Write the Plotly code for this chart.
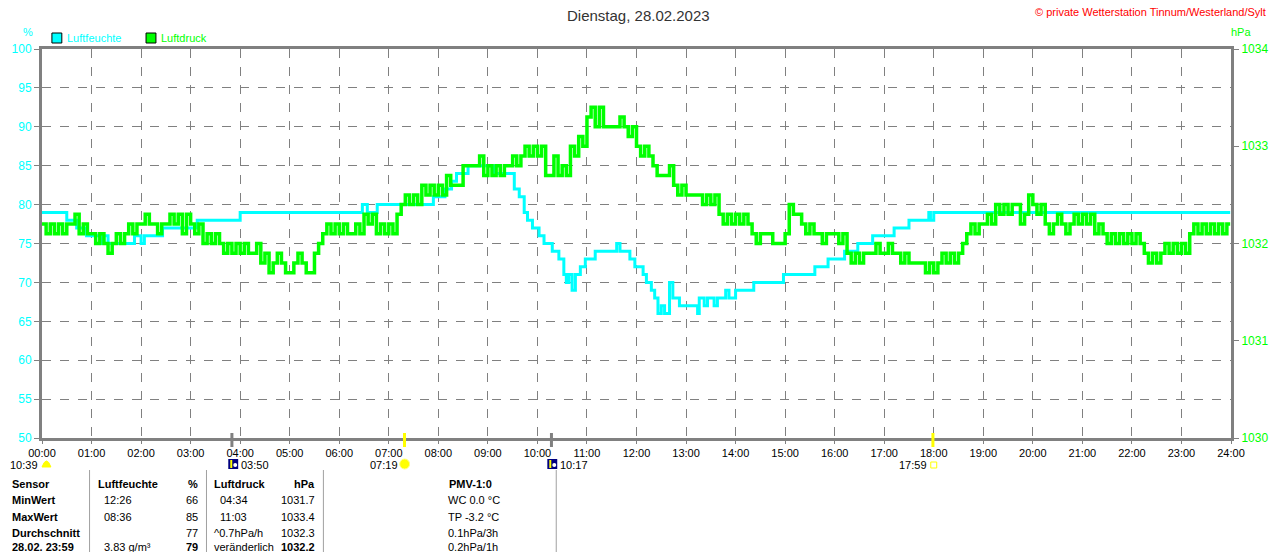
import plotly.graph_objects as go

# Luftfeuchte (%), Zeitpunkte der Aenderung
feuchte_zeit = ["00:00", "00:30", "00:42", "00:54", "01:12", "01:15", "01:20", "01:52", "02:00",
                "02:04", "02:26", "03:08", "04:00", "06:28", "06:34", "06:46", "07:54", "08:08",
                "08:16", "08:22", "08:36", "09:08", "09:32", "09:38", "09:44", "09:48", "09:54",
                "10:02", "10:08", "10:18", "10:26", "10:32", "10:35", "10:38", "10:42", "10:46",
                "10:52", "10:58", "11:10", "11:36", "11:40", "11:52", "11:58", "12:08", "12:12",
                "12:18", "12:22", "12:26", "12:30", "12:34", "12:40", "12:44", "12:52", "13:14",
                "13:16", "13:22", "13:26", "13:34", "13:38", "13:48", "13:52", "14:00", "14:22",
                "14:58", "15:36", "15:52", "16:12", "16:28", "16:46", "17:12", "17:30", "17:54",
                "17:56", "18:00", "23:59"]
feuchte_wert = [79, 78, 77, 76, 75, 76, 75, 76, 75,
                76, 77, 78, 79, 80, 79, 80, 81, 82,
                83, 84, 85, 84, 82, 81, 79, 78, 77,
                76, 75, 74, 73, 71, 70, 71, 69, 71,
                72, 73, 74, 75, 74, 73, 72, 71, 70,
                69, 68, 66, 67, 66, 70, 68, 67, 66,
                68, 67, 68, 67, 68, 69, 68, 69, 70,
                71, 72, 73, 74, 75, 76, 77, 78, 79,
                78, 79, 79]

# Luftdruck (hPa), alle 5 Minuten, eine Zeile pro Stunde
druck_hpa = [
    1032.2, 1032.1, 1032.2, 1032.1, 1032.2, 1032.1, 1032.2, 1032.2, 1032.3, 1032.1, 1032.2, 1032.1,
    1032.1, 1032.0, 1032.1, 1032.0, 1031.9, 1032.0, 1032.1, 1032.0, 1032.1, 1032.2, 1032.1, 1032.2,
    1032.2, 1032.3, 1032.2, 1032.2, 1032.1, 1032.2, 1032.2, 1032.3, 1032.2, 1032.3, 1032.1, 1032.3,
    1032.2, 1032.1, 1032.2, 1032.0, 1032.1, 1032.0, 1032.1, 1032.0, 1031.9, 1032.0, 1031.9, 1032.0,
    1031.9, 1032.0, 1031.9, 1031.9, 1032.0, 1031.8, 1031.9, 1031.7, 1031.8, 1031.9, 1031.8, 1031.7,
    1031.7, 1031.8, 1031.9, 1031.8, 1031.7, 1031.7, 1031.9, 1032.0, 1032.1, 1032.2, 1032.1, 1032.2,
    1032.1, 1032.2, 1032.1, 1032.1, 1032.2, 1032.1, 1032.3, 1032.2, 1032.3, 1032.1, 1032.2, 1032.1,
    1032.2, 1032.1, 1032.3, 1032.4, 1032.5, 1032.4, 1032.5, 1032.4, 1032.6, 1032.5, 1032.6, 1032.5,
    1032.6, 1032.5, 1032.7, 1032.6, 1032.6, 1032.6, 1032.8, 1032.8, 1032.8, 1032.8, 1032.9, 1032.7,
    1032.8, 1032.7, 1032.8, 1032.7, 1032.8, 1032.8, 1032.9, 1032.8, 1032.9, 1033.0, 1032.9, 1033.0,
    1032.9, 1033.0, 1032.7, 1032.7, 1032.9, 1032.7, 1032.8, 1032.7, 1033.0, 1032.9, 1033.1, 1033.0,
    1033.3, 1033.4, 1033.2, 1033.4, 1033.2, 1033.2, 1033.2, 1033.2, 1033.3, 1033.2, 1033.1, 1033.2,
    1033.0, 1032.9, 1033.0, 1032.9, 1032.8, 1032.7, 1032.7, 1032.7, 1032.8, 1032.6, 1032.5, 1032.6,
    1032.5, 1032.5, 1032.5, 1032.5, 1032.4, 1032.5, 1032.4, 1032.5, 1032.3, 1032.2, 1032.3, 1032.2,
    1032.3, 1032.2, 1032.3, 1032.2, 1032.1, 1032.0, 1032.1, 1032.1, 1032.1, 1032.0, 1032.0, 1032.0,
    1032.1, 1032.4, 1032.3, 1032.3, 1032.2, 1032.1, 1032.2, 1032.1, 1032.1, 1032.0, 1032.1, 1032.1,
    1032.1, 1032.0, 1032.1, 1031.9, 1031.8, 1031.9, 1031.8, 1031.9, 1031.9, 1031.9, 1032.0, 1031.9,
    1031.9, 1032.0, 1031.9, 1031.9, 1031.8, 1031.9, 1031.8, 1031.8, 1031.8, 1031.8, 1031.7, 1031.8,
    1031.7, 1031.8, 1031.9, 1031.8, 1031.9, 1031.8, 1031.9, 1032.0, 1032.1, 1032.2, 1032.1, 1032.2,
    1032.2, 1032.3, 1032.2, 1032.4, 1032.3, 1032.4, 1032.3, 1032.4, 1032.4, 1032.2, 1032.3, 1032.5,
    1032.4, 1032.3, 1032.4, 1032.2, 1032.1, 1032.2, 1032.3, 1032.2, 1032.1, 1032.2, 1032.3, 1032.2,
    1032.3, 1032.2, 1032.3, 1032.1, 1032.2, 1032.1, 1032.0, 1032.1, 1032.0, 1032.1, 1032.0, 1032.1,
    1032.0, 1032.1, 1032.0, 1031.9, 1031.8, 1031.9, 1031.8, 1031.9, 1032.0, 1031.9, 1032.0, 1031.9,
    1032.0, 1031.9, 1032.1, 1032.2, 1032.1, 1032.2, 1032.1, 1032.2, 1032.1, 1032.2, 1032.1, 1032.2,
    1032.2,
]
druck_minuten = list(range(0, 1440, 5)) + [1439]

stunden_labels = ["%02d:00" % h for h in range(25)]

# Ereignisse unter der Zeitachse (Mond / Sonne)
ereignis_zeit = ["03:50", "07:19", "10:17", "17:59"]
ereignis_farbe = ["#808080", "#ffff00", "#808080", "#ffff00"]

tabelle = [
    ["Sensor", "Luftfeuchte", "%", "Luftdruck", "hPa", "PMV-1:0"],
    ["MinWert", "12:26", "66", "04:34", "1031.7", "WC 0.0 °C"],
    ["MaxWert", "08:36", "85", "11:03", "1033.4", "TP -3.2 °C"],
    ["Durchschnitt", "", "77", "^0.7hPa/h", "1032.3", "0.1hPa/3h"],
    ["28.02. 23:59", "3.83 g/m³", "79", "veränderlich", "1032.2", "0.2hPa/1h"],
]

CYAN = "#00ffff"
GRUEN = "#00ff00"
GRAU = "#808080"
FONT = "Liberation Sans, Arial, sans-serif"


def std(t):
    h, m = t.split(":")
    return int(h) + int(m) / 60


# pixel helpers for the decoration outside the plot area (plot: x 40..1240, y 49..438)
def px(x):
    return (x - 40) / 1200


def py(y):
    return (438 - y) / 389


def text(x, y, s, anchor="center", size=11, color="black"):
    return dict(x=px(x), y=py(y), xref="paper", yref="paper", text=s, xanchor=anchor,
                yanchor="middle", showarrow=False, font=dict(size=size, color=color))


fig = go.Figure()
fig.add_trace(go.Scatter(x=[std(t) for t in feuchte_zeit], y=feuchte_wert, mode="lines",
                         line=dict(color=CYAN, width=3, shape="hv"), name="Luftfeuchte"))
fig.add_trace(go.Scatter(x=[m / 60 for m in druck_minuten], y=druck_hpa, mode="lines",
                         line=dict(color=GRUEN, width=3.5, shape="hv"), name="Luftdruck", yaxis="y2"))

ann = []
shapes = []

# Titel und Copyright
ann.append(text(642, 15, "Dienstag, 28.02.2023", size=15, color="#333333"))
ann.append(text(1277, 12, "© private Wetterstation Tinnum/Westerland/Sylt", "right", 11, "#ff0000"))
ann.append(text(26, 32, "%", size=11, color=CYAN))
ann.append(text(1250, 32, "hPa", size=11, color=GRUEN))

# Legende
for x0, farbe, name in [(50, CYAN, "Luftfeuchte"), (145, GRUEN, "Luftdruck")]:
    shapes.append(dict(type="rect", xref="paper", yref="paper", x0=px(x0), x1=px(x0 + 10),
                       y0=py(33), y1=py(43), fillcolor=farbe, line=dict(color="black", width=1)))
    ann.append(text(x0 + 13, 38, name, "left", 11, farbe))

# Ereignis-Markierungen an der Zeitachse
for t, farbe in zip(ereignis_zeit, ereignis_farbe):
    shapes.append(dict(type="line", xref="x", yref="paper", x0=std(t), x1=std(t),
                       y0=py(433), y1=py(447), line=dict(color=farbe, width=3)))

ann.append(text(38, 465, "10:39", "right"))
shapes.append(dict(type="path", xref="paper", yref="paper",
                   path="M %f,%f Q %f,%f %f,%f Z" % (px(40), py(467), px(44.5), py(455), px(49), py(467)),
                   fillcolor="#ffff00", line=dict(color="#ffff00", width=1)))

# Mond-Symbole
for x0 in [228, 550]:
    shapes.append(dict(type="rect", xref="paper", yref="paper", x0=px(x0), x1=px(x0 + 10),
                       y0=py(459), y1=py(469), fillcolor="#000080", line=dict(width=0)))
    shapes.append(dict(type="circle", xref="paper", yref="paper", x0=px(x0 + 5), x1=px(x0 + 9),
                       y0=py(463), y1=py(467), fillcolor="white", line=dict(width=0)))
    shapes.append(dict(type="line", xref="paper", yref="paper", x0=px(x0 + 3), x1=px(x0 + 3),
                       y0=py(460), y1=py(468), line=dict(color="#ffff00", width=2)))
ann.append(text(239, 465, "03:50", "left"))
ann.append(text(561, 465, "10:17", "left"))

# Sonne
ann.append(text(401, 465, "07:19", "right"))
shapes.append(dict(type="circle", xref="paper", yref="paper", x0=px(401), x1=px(411),
                   y0=py(459), y1=py(469), fillcolor="#ffff00", line=dict(color="#ffff80", width=1)))
ann.append(text(935, 465, "17:59", "right"))
shapes.append(dict(type="rect", xref="paper", yref="paper", x0=px(937), x1=px(943),
                   y0=py(462), y1=py(468), fillcolor="white", line=dict(color="#ffff00", width=1)))

# Tabelle
spalten = [(8, "left"), (95, "left"), (199, "right"), (212, "left"), (318, "right"), (448, "left")]
zeilen_y = [484, 500, 517, 533, 547]
for r, (zeile, y) in enumerate(zip(tabelle, zeilen_y)):
    for c, (s, (x, anker)) in enumerate(zip(zeile, spalten)):
        if not s:
            continue
        fett = r == 0 or c == 0 or (r == 4 and c in (2, 4))
        xx, aa = x, anker
        if r == 0 and c == 5:
            xx, aa = 472, "center"
        if r in (1, 2) and c in (1, 3):
            xx += 6
        if r == 4 and c == 1:
            xx += 6
        ann.append(text(xx, y, "<b>%s</b>" % s if fett else s, aa))

for x in [88, 206, 324, 559]:
    shapes.append(dict(type="line", xref="paper", yref="paper", x0=px(x), x1=px(x),
                       y0=py(470), y1=py(560), line=dict(color="#a0a0a0", width=1)))

fig.update_layout(
    width=1280, height=552,
    margin=dict(l=40, r=40, t=49, b=114),
    paper_bgcolor="white", plot_bgcolor="white",
    showlegend=False,
    font=dict(family=FONT, size=12, color="black"),
    annotations=ann,
    shapes=shapes,
    xaxis=dict(range=[0, 24], tickvals=list(range(25)), ticktext=stunden_labels,
               showgrid=True, gridcolor=GRAU, griddash="dash", gridwidth=1,
               showline=True, linecolor=GRAU, linewidth=3, mirror=True,
               ticks="outside", ticklen=3, tickcolor=GRAU, zeroline=False,
               tickfont=dict(size=11, color="black")),
    yaxis=dict(range=[50, 100], dtick=5, showgrid=True, gridcolor=GRAU, griddash="dash",
               gridwidth=1, showline=True, linecolor=GRAU, linewidth=3, mirror=True,
               ticks="outside", ticklen=5, tickcolor=GRAU, zeroline=False,
               tickfont=dict(size=12, color=CYAN)),
    yaxis2=dict(range=[1030, 1034], dtick=1, overlaying="y", side="right", showgrid=False,
                showline=True, linecolor=GRAU, linewidth=3, ticks="outside", ticklen=5,
                tickcolor=GRAU, zeroline=False, tickfont=dict(size=12, color=GRUEN)),
)

fig.write_html("out.html", config={"displayModeBar": False},
               post_script="document.body.style.margin='0';"
                           "document.body.style.overflow='hidden';")
